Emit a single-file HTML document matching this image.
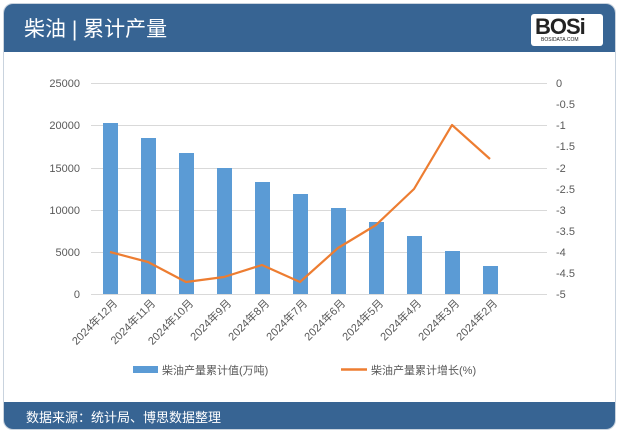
<!DOCTYPE html>
<html><head><meta charset="utf-8"><style>
body{margin:0;width:621px;height:433px;background:#fff;overflow:hidden;font-family:"Liberation Sans","Noto Sans CJK SC",sans-serif;}
.frame{position:absolute;left:3px;top:3px;width:613px;height:427px;border-radius:10px;overflow:hidden;background:#fff;border:1px solid #c9d3de;box-sizing:border-box;}
.hdr{position:absolute;left:0;top:0;width:100%;height:48px;background:#376493;}
.hdr .t{position:absolute;left:20px;top:9px;color:#fff;font-size:21px;}
.logo{position:absolute;right:12px;top:10px;width:72px;height:32px;background:#fff;border-radius:3px;}
.logo b{position:absolute;left:4px;top:0;font:900 22px "Liberation Sans",sans-serif;color:#222;letter-spacing:-1px}
.logo i{position:absolute;left:10px;top:23px;font:5px "Liberation Sans",sans-serif;color:#222;font-style:normal}
.ftr{position:absolute;left:0;bottom:0;width:100%;height:27px;background:#376493;color:#fff;font-size:13px;}
.ftr span{position:absolute;left:22px;top:5px;}
</style></head><body>
<div class="frame">
<div class="hdr"><div class="t">柴油 | 累计产量</div><div class="logo"><b>BOSi</b><i>BOSIDATA.COM</i></div></div>
<div class="ftr"><span>数据来源：统计局、博思数据整理</span></div>
</div>
<svg width="621" height="433" style="position:absolute;left:0;top:0" font-family="Liberation Sans, Noto Sans CJK SC, sans-serif" font-size="11" fill="#595959">
<g stroke="#d9d9d9" stroke-width="1">
<line x1="91" y1="83.5" x2="547" y2="83.5"/><line x1="91" y1="125.5" x2="547" y2="125.5"/><line x1="91" y1="168.5" x2="547" y2="168.5"/><line x1="91" y1="210.5" x2="547" y2="210.5"/><line x1="91" y1="252.5" x2="547" y2="252.5"/><line x1="91" y1="294.5" x2="547" y2="294.5"/>
</g>
<g text-anchor="end">
<text x="80" y="87">25000</text><text x="80" y="129">20000</text><text x="80" y="172">15000</text><text x="80" y="214">10000</text><text x="80" y="256">5000</text><text x="80" y="298">0</text>
</g>
<g text-anchor="start">
<text x="556" y="87">0</text><text x="556" y="108">-0.5</text><text x="556" y="129">-1</text><text x="556" y="150">-1.5</text><text x="556" y="172">-2</text><text x="556" y="193">-2.5</text><text x="556" y="214">-3</text><text x="556" y="235">-3.5</text><text x="556" y="256">-4</text><text x="556" y="277">-4.5</text><text x="556" y="298">-5</text>
</g>
<g fill="#5b9bd5">
<rect x="103" y="123" width="15" height="171"/>
<rect x="141" y="138" width="15" height="156"/>
<rect x="179" y="153" width="15" height="141"/>
<rect x="217" y="168" width="15" height="126"/>
<rect x="255" y="182" width="15" height="112"/>
<rect x="293" y="194" width="15" height="100"/>
<rect x="331" y="208" width="15" height="86"/>
<rect x="369" y="222" width="15" height="72"/>
<rect x="407" y="236" width="15" height="58"/>
<rect x="445" y="251" width="15" height="43"/>
<rect x="483" y="266" width="15" height="28"/>
</g>
<polyline fill="none" stroke="#ed7d31" stroke-width="2.2" stroke-linejoin="round" points="110,252 148,262 186,282 224,277 262,265 300,282 338,248 376,225 414,189 452,125 490,159"/>
<g font-size="11">
<text transform="translate(118,304) rotate(-45)" text-anchor="end">2024年12月</text>
<text transform="translate(156,304) rotate(-45)" text-anchor="end">2024年11月</text>
<text transform="translate(194,304) rotate(-45)" text-anchor="end">2024年10月</text>
<text transform="translate(232,304) rotate(-45)" text-anchor="end">2024年9月</text>
<text transform="translate(270,304) rotate(-45)" text-anchor="end">2024年8月</text>
<text transform="translate(308,304) rotate(-45)" text-anchor="end">2024年7月</text>
<text transform="translate(346,304) rotate(-45)" text-anchor="end">2024年6月</text>
<text transform="translate(384,304) rotate(-45)" text-anchor="end">2024年5月</text>
<text transform="translate(422,304) rotate(-45)" text-anchor="end">2024年4月</text>
<text transform="translate(460,304) rotate(-45)" text-anchor="end">2024年3月</text>
<text transform="translate(498,304) rotate(-45)" text-anchor="end">2024年2月</text>
</g>
<rect x="133" y="366" width="25" height="7" fill="#5b9bd5"/>
<text x="162" y="374">柴油产量累计值(万吨)</text>
<line x1="341" y1="369.5" x2="367" y2="369.5" stroke="#ed7d31" stroke-width="2.5"/>
<text x="371" y="374">柴油产量累计增长(%)</text>
</svg>
</body></html>
